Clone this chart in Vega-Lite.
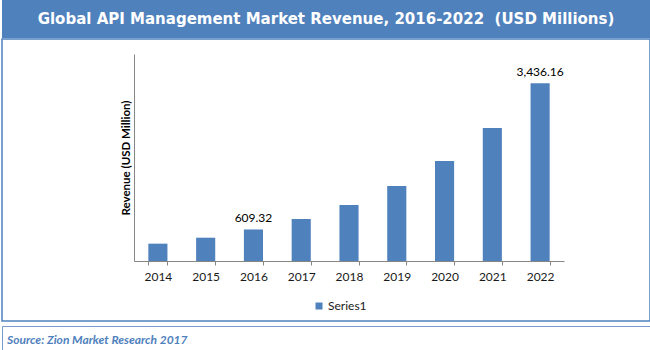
{
  "$schema": "https://vega.github.io/schema/vega-lite/v6.json",
  "padding": {"left": 1, "top": 0, "right": 1, "bottom": 1},
  "background": "white",
  "spacing": 3,
  "vconcat": [
    {
      "spacing": 0,
      "vconcat": [
        {
          "width": 648,
          "height": 38,
          "view": {"fill": "#4f81bd", "stroke": null},
          "data": {"values": [{"title": "Global API Management Market Revenue, 2016-2022 \u00a0(USD Millions)"}]},
          "mark": {"type": "text", "font": "DejaVu Sans", "fontWeight": "bold", "fontSize": 15, "color": "white", "align": "center", "baseline": "middle"},
          "encoding": {"text": {"field": "title"}}
        },
        {
          "width": 648,
          "height": 282,
          "view": {"stroke": "#4f81bd", "strokeWidth": 1.5, "fill": "white"},
          "data": {"values": [
            {"year": "2014", "revenue": 335, "label": "", "series": "Series1"},
            {"year": "2015", "revenue": 450, "label": "", "series": "Series1"},
            {"year": "2016", "revenue": 609.32, "label": "609.32", "series": "Series1"},
            {"year": "2017", "revenue": 812, "label": "", "series": "Series1"},
            {"year": "2018", "revenue": 1082, "label": "", "series": "Series1"},
            {"year": "2019", "revenue": 1449, "label": "", "series": "Series1"},
            {"year": "2020", "revenue": 1932, "label": "", "series": "Series1"},
            {"year": "2021", "revenue": 2570, "label": "", "series": "Series1"},
            {"year": "2022", "revenue": 3436.16, "label": "3,436.16", "series": "Series1"}
          ]},
          "encoding": {
            "x": {
              "field": "year", "type": "ordinal",
              "scale": {"range": [132, 562], "paddingInner": 0.6, "paddingOuter": 0.3},
              "axis": {"title": null, "labelAngle": 0, "offset": -60, "domainColor": "#868686", "tickColor": "#868686", "tickSize": 4, "tickBand": "extent", "labelFont": "Lato", "labelFontSize": 12, "labelColor": "#1a1a1a", "labelPadding": 6, "grid": false}
            },
            "y": {
              "field": "revenue", "type": "quantitative",
              "scale": {"domain": [0, 4000], "range": [222, 15], "nice": false, "zero": true},
              "axis": {"title": "Revenue (USD Million)", "offset": -132, "labels": false, "ticks": false, "grid": false, "domainColor": "#868686", "titleFont": "Lato", "titleFontSize": 11.5, "titleFontWeight": "bold", "titleColor": "#000000", "titlePadding": 3}
            }
          },
          "layer": [
            {
              "mark": {"type": "bar"},
              "encoding": {
                "color": {
                  "field": "series", "type": "nominal",
                  "scale": {"range": ["#4f81bd"]},
                  "legend": {"title": null, "orient": "none", "legendX": 311, "legendY": 300, "symbolType": "square", "symbolSize": 49, "symbolStrokeWidth": 0, "labelFont": "Lato", "labelFontSize": 12, "labelColor": "#1a1a1a", "labelOffset": 3, "padding": 0}
                }
              }
            },
            {
              "mark": {"type": "text", "dy": -7, "font": "Lato", "fontSize": 12, "color": "#000000", "baseline": "alphabetic"},
              "encoding": {"text": {"field": "label"}}
            }
          ]
        }
      ]
    },
    {
      "width": 648,
      "height": 26,
      "view": {"stroke": "#7b9bd0", "fill": "white"},
      "title": {"text": "Source: Zion Market Research 2017", "anchor": "start", "orient": "top", "offset": -21, "dx": 5, "font": "Lato", "fontSize": 12, "fontStyle": "italic", "fontWeight": "bold", "color": "#4f81bd"},
      "data": {"values": [{"t": ""}]},
      "mark": {"type": "text"},
      "encoding": {"text": {"field": "t"}}
    }
  ]
}
